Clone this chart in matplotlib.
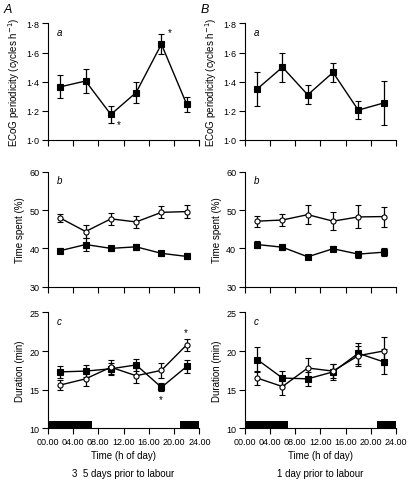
import matplotlib.pyplot as plt
import numpy as np
from matplotlib.ticker import FuncFormatter

plt.rcParams['font.family'] = ['Liberation Sans', 'DejaVu Sans']

hours = [2, 6, 10, 14, 18, 22]
xtick_labels = ['00.00', '04.00', '08.00', '12.00', '16.00', '20.00', '24.00']

# ECoG periodicity (cycles per hour)
ecog_A = [1.365, 1.405, 1.175, 1.326, 1.658, 1.245]
ecog_A_err = [0.08, 0.08, 0.055, 0.075, 0.068, 0.05]
ecog_B = [1.35, 1.50, 1.31, 1.464, 1.205, 1.254]
ecog_B_err = [0.12, 0.10, 0.065, 0.063, 0.064, 0.15]

# time spent (%)
open_time_A = [47.9, 44.4, 47.7, 46.9, 49.4, 49.6]
open_time_A_err = [1.1, 1.7, 1.5, 1.6, 1.6, 1.6]
fill_time_A = [39.4, 41.0, 40.0, 40.4, 38.7, 37.9]
fill_time_A_err = [0.6, 1.6, 0.7, 0.7, 0.7, 0.8]
open_time_B = [47.1, 47.4, 48.8, 47.1, 48.2, 48.3]
open_time_B_err = [1.4, 1.6, 2.5, 2.4, 3.0, 2.6]
fill_time_B = [41.0, 40.3, 37.8, 39.9, 38.5, 39.0]
fill_time_B_err = [1.0, 0.7, 0.3, 0.7, 0.9, 1.0]

# duration (min)
fill_dur_A = [17.3, 17.4, 17.7, 18.2, 15.3, 18.0]
fill_dur_A_err = [0.8, 0.8, 0.7, 0.8, 0.5, 0.8]
open_dur_A = [15.6, 16.4, 17.9, 16.8, 17.5, 20.8]
open_dur_A_err = [0.7, 0.95, 0.95, 1.0, 1.0, 0.8]
fill_dur_B = [18.9, 16.5, 16.4, 17.3, 19.7, 18.6]
fill_dur_B_err = [1.6, 0.95, 0.9, 1.0, 1.35, 1.6]
open_dur_B = [16.5, 15.4, 17.8, 17.4, 19.4, 20.0]
open_dur_B_err = [0.85, 1.05, 1.3, 0.9, 1.3, 1.8]

# dark periods (start, length in h)
night_A = [(0, 7.0), (21.0, 3.0)]
night_B = [(0, 6.9), (20.9, 3.1)]

fig = plt.figure(figsize=(4.11, 4.81), dpi=100)

lefts = [0.116, 0.595]
width = 0.369
rows = [(0.7069, 0.2422), (0.4019, 0.239), (0.1075, 0.241)]

fs = 6.5
dot = FuncFormatter(lambda v, p: ('%.1f' % v).replace('.', '\u00b7'))


def style(ax, last):
    ax.spines['top'].set_visible(False)
    ax.spines['right'].set_visible(False)
    ax.set_xlim(0, 24)
    ax.set_xticks(range(0, 25, 4))
    ax.tick_params(direction='out', length=4, width=0.8, labelsize=fs, pad=2)
    if last:
        ax.set_xticklabels(xtick_labels)
    else:
        ax.set_xticklabels([])


def errline(ax, y, e, marker, face):
    ax.errorbar(hours, y, yerr=e, color='black', marker=marker, ms=3.7,
                mfc=face, mec='black', mew=0.8, lw=1.0, capsize=2.5,
                elinewidth=0.9, capthick=0.9, clip_on=False, zorder=3)


for col, left in enumerate(lefts):
    ax_a = fig.add_axes([left, rows[0][0], width, rows[0][1]])
    ax_b = fig.add_axes([left, rows[1][0], width, rows[1][1]])
    ax_c = fig.add_axes([left, rows[2][0], width, rows[2][1]])

    if col == 0:
        errline(ax_a, ecog_A, ecog_A_err, 's', 'black')
        errline(ax_b, open_time_A, open_time_A_err, 'o', 'white')
        errline(ax_b, fill_time_A, fill_time_A_err, 's', 'black')
        errline(ax_c, fill_dur_A, fill_dur_A_err, 's', 'black')
        errline(ax_c, open_dur_A, open_dur_A_err, 'o', 'white')
        nights = night_A
        ax_a.text(11.0, 1.09, '*', fontsize=7)
        ax_a.text(19.0, 1.72, '*', fontsize=7)
        ax_c.text(21.6, 22.0, '*', fontsize=7)
        ax_c.text(17.6, 13.4, '*', fontsize=7)
        caption = '3  5 days prior to labour'
        letter = 'A'
    else:
        errline(ax_a, ecog_B, ecog_B_err, 's', 'black')
        errline(ax_b, open_time_B, open_time_B_err, 'o', 'white')
        errline(ax_b, fill_time_B, fill_time_B_err, 's', 'black')
        errline(ax_c, fill_dur_B, fill_dur_B_err, 's', 'black')
        errline(ax_c, open_dur_B, open_dur_B_err, 'o', 'white')
        nights = night_B
        caption = '1 day prior to labour'
        letter = 'B'

    ax_c.broken_barh(nights, (10, 0.95), facecolors='black', clip_on=False, zorder=2)

    ax_a.set_ylim(1.0, 1.8)
    ax_a.set_yticks([1.0, 1.2, 1.4, 1.6, 1.8])
    ax_a.yaxis.set_major_formatter(dot)
    ax_a.set_ylabel('ECoG periodicity (cycles h$^{-1}$)', fontsize=7, labelpad=3)

    ax_b.set_ylim(30, 60)
    ax_b.set_yticks([30, 40, 50, 60])
    ax_b.set_ylabel('Time spent (%)', fontsize=7, labelpad=3)

    ax_c.set_ylim(10, 25)
    ax_c.set_yticks([10, 15, 20, 25])
    ax_c.set_ylabel('Duration (min)', fontsize=7, labelpad=3)
    ax_c.set_xlabel('Time (h of day)', fontsize=7, labelpad=3)

    for ax, last, tag in [(ax_a, False, 'a'), (ax_b, False, 'b'), (ax_c, True, 'c')]:
        style(ax, last)
        ax.text(0.06, 0.97, tag, transform=ax.transAxes, fontsize=7,
                style='italic', va='top')

    fig.text(left + width / 2, 0.008, caption, ha='center', fontsize=7)
    fig.text(left - 0.106, 0.972, letter, fontsize=9, style='italic')

fig.savefig('out.png', dpi=100)
